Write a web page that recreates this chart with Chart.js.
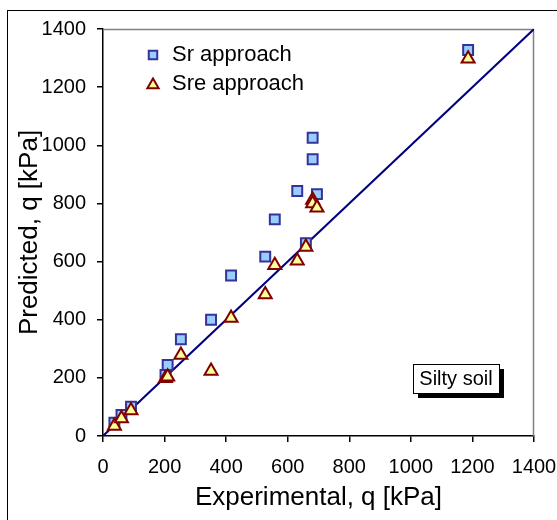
<!DOCTYPE html>
<html>
<head>
<meta charset="utf-8">
<script src="https://cdn.jsdelivr.net/npm/chart.js@4/dist/chart.umd.min.js"></script>
<style>
  html, body { margin: 0; padding: 0; background: #fff; }
  #wrap { width: 557px; height: 520px; position: relative; }
</style>
</head>
<body>
<div id="wrap"><canvas id="c" width="557" height="520"></canvas></div>
<script>
// Measured bearing capacity vs. predicted (silty soil), kPa
const experimental = [37, 60, 91, 203, 210, 253, 351, 416, 527, 558, 631, 659, 681, 681, 695, 1186];
const srPredicted  = [46, 72, 101, 210, 244, 333, 400, 552, 617, 745, 843, 663, 1026, 952, 832, 1328];
const srePredicted = [34, 60, 88, 199, 204, 279, 224, 406, 487, 587, 603, 650, 812, 800, 785, 1298];
const seriesNames = ['Sr approach', 'Sre approach'];
const axisTicks = [0, 200, 400, 600, 800, 1000, 1200, 1400];
const equalityLine = [0, 1400];
const soilLabel = 'Silty soil';

const FONT = '"Liberation Sans", Arial, Helvetica, sans-serif';
Chart.defaults.color = '#000';
Chart.defaults.font.family = FONT;

const toPoints = (xs, ys) => xs.map((x, i) => ({ x: x, y: ys[i] }));

const styles = [
  { pointStyle: 'rect', radius: 7, fill: '#99ccff', stroke: '#333399' },
  { pointStyle: 'triangle', radius: 7.5, fill: '#ffff99', stroke: '#800000' }
];

// Frame, plot border, in-plot legend and the soil label box
const decorations = {
  id: 'decorations',
  beforeDraw(chart) {
    const ctx = chart.ctx;
    ctx.save();
    ctx.fillStyle = '#fff';
    ctx.fillRect(0, 0, chart.width, chart.height);
    ctx.strokeStyle = '#000';
    ctx.lineWidth = 1;
    ctx.strokeRect(7.5, 10.5, 700, 700);
    ctx.restore();
  },
  beforeDatasetsDraw(chart) {
    const ctx = chart.ctx, a = chart.chartArea;
    ctx.save();
    ctx.strokeStyle = '#808080';
    ctx.lineWidth = 1.5;
    ctx.beginPath();
    ctx.moveTo(a.left, a.top + 0.5);
    ctx.lineTo(a.right - 0.5, a.top + 0.5);
    ctx.lineTo(a.right - 0.5, a.bottom);
    ctx.stroke();
    ctx.restore();
  },
  afterDraw(chart) {
    const ctx = chart.ctx, a = chart.chartArea;
    ctx.save();
    // legend, listed in series order
    const lx = a.left + 50, ly = a.top + 26, gap = 29;
    seriesNames.forEach((name, i) => {
      const ds = chart.data.datasets.find(d => d.label === name);
      const y = ly + i * gap;
      ctx.fillStyle = ds.pointBackgroundColor;
      ctx.strokeStyle = ds.pointBorderColor;
      ctx.lineWidth = 2;
      Chart.helpers.drawPoint(ctx, { pointStyle: ds.pointStyle, radius: i === 0 ? 6 : 6.5, borderWidth: 2, rotation: 0 }, lx, y + (i === 1 ? 1 : 0));
      ctx.fillStyle = '#000';
      ctx.font = '22px ' + FONT;
      ctx.textAlign = 'left';
      ctx.textBaseline = 'middle';
      ctx.fillText(ds.label, lx + 19, y);
    });
    // label box with drop shadow
    const bx = 413, by = 364, bw = 86, bh = 29;
    ctx.fillStyle = '#000';
    ctx.fillRect(bx + 5, by + 5, bw, bh);
    ctx.fillStyle = '#fff';
    ctx.fillRect(bx, by, bw, bh);
    ctx.strokeStyle = '#000';
    ctx.lineWidth = 1;
    ctx.strokeRect(bx + 0.5, by + 0.5, bw, bh);
    ctx.fillStyle = '#000';
    ctx.font = '20px ' + FONT;
    ctx.textAlign = 'center';
    ctx.textBaseline = 'middle';
    ctx.fillText(soilLabel, bx + bw / 2, by + bh / 2 + 1);
    ctx.restore();
  }
};

const axisCommon = {
  type: 'linear',
  min: axisTicks[0],
  max: axisTicks[axisTicks.length - 1],
  afterBuildTicks(scale) { scale.ticks = axisTicks.map(v => ({ value: v })); },
  border: { display: true, color: '#000', width: 1.5 },
  grid: { display: true, drawOnChartArea: false, drawTicks: true, tickLength: 6, color: '#000', lineWidth: 1.5 }
};

new Chart(document.getElementById('c'), {
  data: {
    datasets: [
      {
        type: 'scatter',
        label: seriesNames[1],
        data: toPoints(experimental, srePredicted),
        pointStyle: styles[1].pointStyle,
        pointRadius: styles[1].radius,
        pointBackgroundColor: styles[1].fill,
        pointBorderColor: styles[1].stroke,
        pointBorderWidth: 2,
        order: 0
      },
      {
        type: 'scatter',
        label: seriesNames[0],
        data: toPoints(experimental, srPredicted),
        pointStyle: styles[0].pointStyle,
        pointRadius: styles[0].radius,
        pointBackgroundColor: styles[0].fill,
        pointBorderColor: styles[0].stroke,
        pointBorderWidth: 2,
        order: 1
      },
      {
        type: 'line',
        label: '1:1',
        data: toPoints(equalityLine, equalityLine),
        borderColor: '#000080',
        borderWidth: 2,
        pointRadius: 0,
        fill: false,
        order: 2
      }
    ]
  },
  options: {
    responsive: false,
    animation: false,
    events: [],
    layout: { padding: { top: 29, right: 23, bottom: 0, left: 0 } },
    plugins: { legend: { display: false }, tooltip: { enabled: false } },
    scales: {
      x: Object.assign({}, axisCommon, {
        position: 'bottom',
        afterFit(scale) { scale.height = 84; scale.paddingLeft = 0; scale.paddingRight = 0; },
        ticks: { font: { size: 20 }, padding: 13, maxRotation: 0, autoSkip: false, callback: v => String(v) },
        title: { display: true, text: 'Experimental, q [kPa]', font: { size: 26 }, padding: { top: 0, bottom: 7 } }
      }),
      y: Object.assign({}, axisCommon, {
        position: 'left',
        afterFit(scale) { scale.width = 103; scale.paddingTop = 0; scale.paddingBottom = 0; },
        ticks: { font: { size: 20 }, padding: 11, autoSkip: false, callback: v => String(v) },
        title: { display: true, text: 'Predicted, q [kPa]', font: { size: 26 }, padding: { top: 14, bottom: 0 } }
      })
    }
  },
  plugins: [decorations]
});
</script>
</body>
</html>
